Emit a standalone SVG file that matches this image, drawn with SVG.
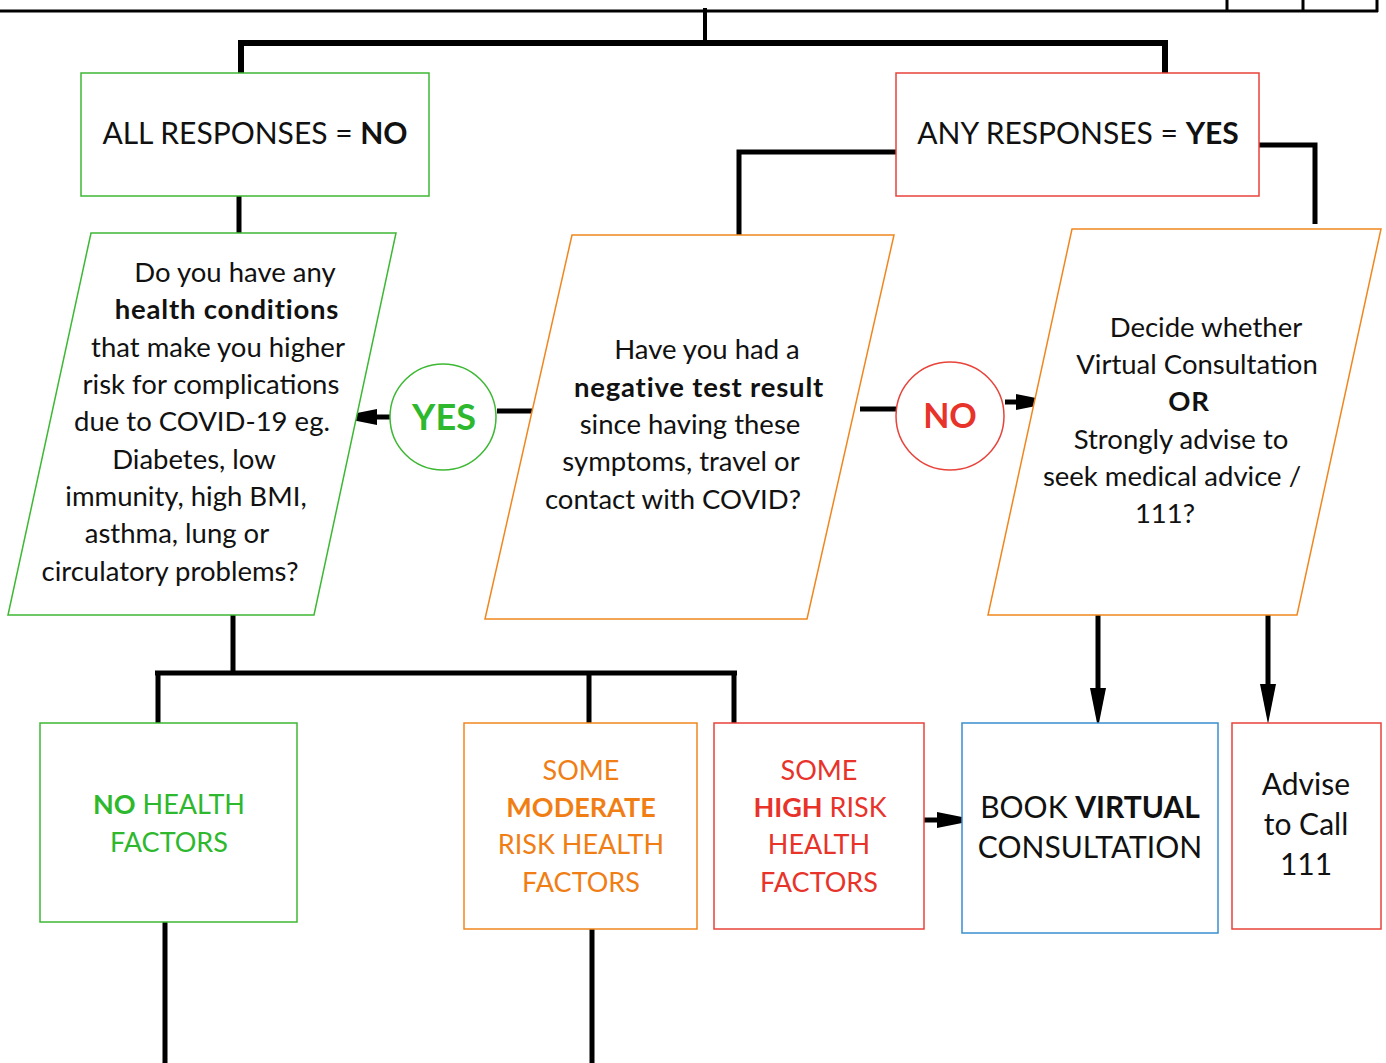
<svg xmlns="http://www.w3.org/2000/svg" width="1386" height="1063" viewBox="0 0 1386 1063">
<style>
text{font-family:Lato,"Noto Sans","Liberation Sans",sans-serif;fill:#111;text-anchor:middle}
.b{font-weight:bold}
.q{font-size:27.5px}
.qb{font-size:27.5px;font-weight:bold;letter-spacing:0.8px}
.t{font-size:28px}
.u{font-size:27px}
.h{font-size:30px}
.box{fill:#fff;stroke-width:1.5}
.g{stroke:#3cb833}
.o{stroke:#f0861e}
.r{stroke:#e8433a}
.bl{stroke:#3a8fd0}
.tg{fill:#2db82d}
.to{fill:#f07e14}
.tr{fill:#e8332a}
.c{fill:none;stroke:#000;stroke-width:5}
</style>
<defs>
<marker id="ah" viewBox="0 0 40 16" markerUnits="userSpaceOnUse" markerWidth="40" markerHeight="16" refX="0" refY="8" orient="auto" overflow="visible">
<path d="M0,0 L40,8 L0,16 Z" fill="#000"/>
</marker>
</defs>
<g id="connectors">
<path class="c" style="stroke-width:3" d="M0,11 H1378 M1227,0 V11 M1303,0 V11 M1377,0 V12"/>
<path class="c" style="stroke-width:4" d="M705,8 V43"/>
<path class="c" style="stroke-width:6" d="M241,73 V43 H1165 V80"/>
<path class="c" d="M239,196 V233"/>
<path class="c" d="M896,152 H739 V235"/>
<path class="c" d="M1259,145 H1315 V224"/>
<path class="c" d="M532,411 H497"/>
<path class="c" marker-end="url(#ah)" d="M390,417 H377"/>
<path class="c" d="M860,409 H896"/>
<path class="c" marker-end="url(#ah)" d="M1005,402 H1016"/>
<path class="c" d="M233,615 V673 M155,673 H737 M158,673 V723 M589,673 V726 M734,673 V726"/>
<path class="c" d="M165,922 V1063 M592,929 V1063"/>
<path class="c" marker-end="url(#ah)" d="M1098,615 V688"/>
<path class="c" marker-end="url(#ah)" d="M1268,612 V684"/>
<path class="c" marker-end="url(#ah)" d="M924,820 H937"/>
</g>
<g id="all-no">
<rect class="box g" x="81" y="73" width="348" height="123"/>
<text class="h" x="255" y="144">ALL RESPONSES = <tspan class="b">NO</tspan></text>
</g>
<g id="any-yes">
<rect class="box r" x="896" y="73" width="363" height="123"/>
<text class="h" x="1078" y="144">ANY RESPONSES = <tspan class="b">YES</tspan></text>
</g>
<g id="health-conditions">
<polygon class="box g" points="91,233 396,233 314,615 8,615"/>
<text class="q" x="235" y="282">Do you have any</text>
<text class="qb" x="227" y="319">health conditions</text>
<text class="q" x="218" y="357">that make you higher</text>
<text class="q" x="211" y="394">risk for complications</text>
<text class="q" x="202" y="431">due to COVID-19 eg.</text>
<text class="q" x="194" y="469">Diabetes, low</text>
<text class="q" x="186" y="506">immunity, high BMI,</text>
<text class="q" x="177" y="543">asthma, lung or</text>
<text class="q" x="170" y="581">circulatory problems?</text>
</g>
<g id="negative-test">
<polygon class="box o" points="572,235 894,235 807,619 485,619"/>
<text class="q" x="707" y="359">Have you had a</text>
<text class="qb" x="699" y="397">negative test result</text>
<text class="q" x="690" y="434">since having these</text>
<text class="q" x="681" y="471">symptoms, travel or</text>
<text class="q" x="673" y="509">contact with COVID?</text>
</g>
<g id="decide">
<polygon class="box o" points="1072,229 1381,229 1297,615 988,615"/>
<text class="q" x="1206" y="337">Decide whether</text>
<text class="q" x="1197" y="374">Virtual Consultation</text>
<text class="qb" x="1189" y="411">OR</text>
<text class="q" x="1181" y="449">Strongly advise to</text>
<text class="q" x="1172" y="486">seek medical advice /</text>
<text class="q" x="1165" y="523">111?</text>
</g>
<g id="yes-circle">
<circle class="box g" cx="443" cy="417" r="53"/>
<text class="b tg" x="444" y="430" style="font-size:36px">YES</text>
</g>
<g id="no-circle">
<circle class="box r" cx="950" cy="416" r="54"/>
<text class="b tr" x="950" y="428" style="font-size:34px">NO</text>
</g>
<g id="no-health">
<rect class="box g" x="40" y="723" width="257" height="199"/>
<text class="u tg" x="169" y="814"><tspan class="b">NO</tspan> HEALTH</text>
<text class="u tg" x="169" y="852">FACTORS</text>
</g>
<g id="moderate">
<rect class="box o" x="464" y="723" width="233" height="206"/>
<text class="u to" x="581" y="780">SOME</text>
<text class="u to b" x="581" y="817">MODERATE</text>
<text class="u to" x="581" y="854">RISK HEALTH</text>
<text class="u to" x="581" y="892">FACTORS</text>
</g>
<g id="high">
<rect class="box r" x="714" y="723" width="210" height="206"/>
<text class="u tr" x="819" y="780">SOME</text>
<text class="u tr" x="820" y="817"><tspan class="b">HIGH</tspan> RISK</text>
<text class="u tr" x="819" y="854">HEALTH</text>
<text class="u tr" x="819" y="892">FACTORS</text>
</g>
<g id="book">
<rect class="box bl" x="962" y="723" width="256" height="210"/>
<text class="h" x="1090" y="818">BOOK <tspan class="b">VIRTUAL</tspan></text>
<text class="h" x="1090" y="858">CONSULTATION</text>
</g>
<g id="advise">
<rect class="box r" x="1232" y="723" width="149" height="206"/>
<text class="h" x="1306" y="795">Advise</text>
<text class="h" x="1306" y="835">to Call</text>
<text class="h" x="1306" y="875">111</text>
</g>
</svg>
